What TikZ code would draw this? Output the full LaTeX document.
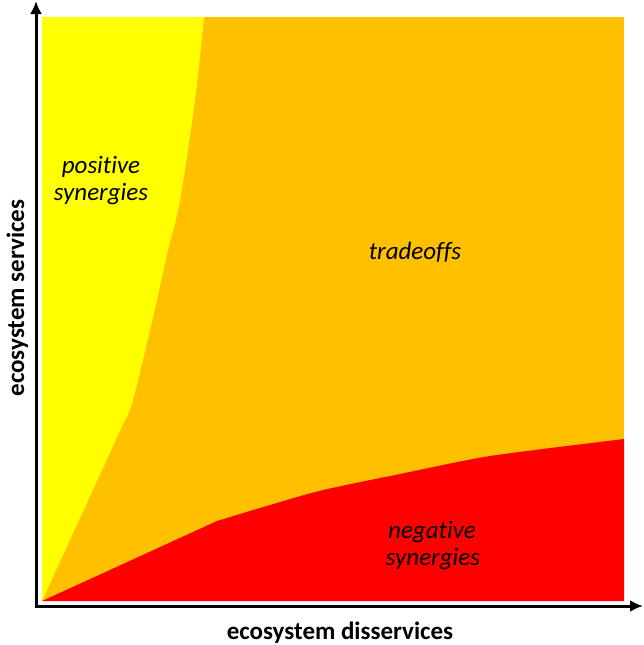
\documentclass[tikz,border=0pt]{standalone}
\usepackage{fontspec}
\setmainfont{Carlito}[Ligatures=NoCommon]
\usetikzlibrary{arrows.meta}
\definecolor{cyellow}{HTML}{FFFF00}
\definecolor{corange}{HTML}{FFC000}
\definecolor{cred}{HTML}{FF0000}
\tikzset{
  zonelabel/.style={anchor=base, inner sep=0pt, font=\fontsize{25}{30}\selectfont\itshape},
  axislabel/.style={anchor=base, inner sep=0pt, font=\fontsize{25}{30}\selectfont\bfseries},
  axisline/.style={line width=3pt, line join=miter,
    {Latex[length=13pt,width=12pt]}-{Latex[length=13pt,width=12pt]}}
}
\begin{document}
\begin{tikzpicture}[x=1pt,y=-1pt]
\useasboundingbox (0,0) rectangle (644,645);
% tradeoffs background
\fill[corange] (42,17) rectangle (624,601);
% positive synergies
\fill[cyellow] (42,601) -- (124,422)
  -- plot[smooth, tension=0.6] coordinates {(124,422) (133,400) (150,330) (157,300) (168,250) (180,200) (195,100) (204,17)}
  -- (42,17) -- cycle;
% negative synergies
\fill[cred] (42,601) -- (217,521)
  -- plot[smooth, tension=0.4] coordinates {(217,521) (315,492) (400,474) (490,456) (624,439)}
  -- (624,601) -- cycle;
% axes
\coordinate (ytip) at (36,1);
\coordinate (orig) at (36,606);
\coordinate (xtip) at (643,606);
\draw[axisline] (ytip) -- (orig) -- (xtip);
% labels
\node[zonelabel] (pos1) at (101,173) {positive};
\node[zonelabel] (pos2) at (101,200) {synergies};
\node[zonelabel] (trade) at (415,259) {tradeoffs};
\node[zonelabel] (neg1) at (432,538) {negative};
\node[zonelabel] (neg2) at (433,565) {synergies};
\node[axislabel] (xlab) at (340,639) {ecosystem disservices};
\node[axislabel, rotate=90] (ylab) at (24,298) {ecosystem services};
\end{tikzpicture}
\end{document}
